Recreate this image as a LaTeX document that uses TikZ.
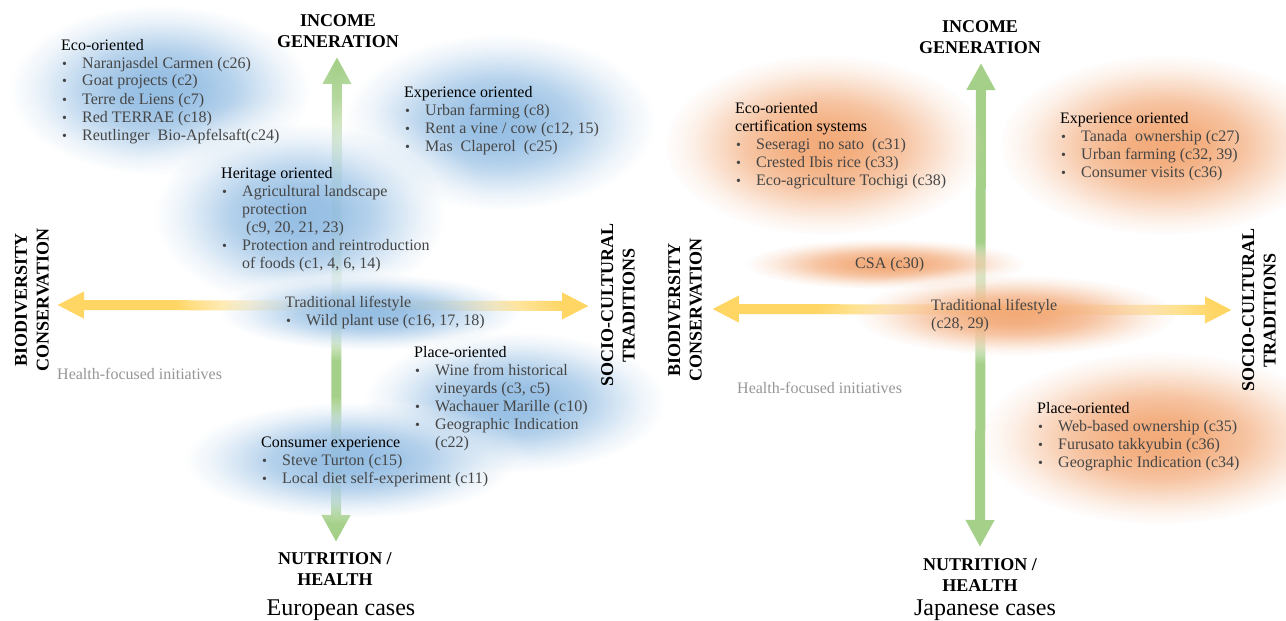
\documentclass[tikz,border=0pt]{standalone}
\usepackage{fontspec}
\setmainfont{Liberation Serif}
\usetikzlibrary{arrows.meta,fadings}
\definecolor{blobblue}{RGB}{91,155,213}
\definecolor{bloborange}{RGB}{237,125,49}
\definecolor{axgreen}{RGB}{165,208,138}
\definecolor{axyellow}{RGB}{255,214,100}
\definecolor{itemgray}{RGB}{70,70,70}
\definecolor{healthgray}{RGB}{150,150,150}

\pgfdeclareradialshading{blobsh}{\pgfpointorigin}{color(0bp)=(black!35); color(6bp)=(black!40); color(12bp)=(black!55); color(17bp)=(black!75); color(21bp)=(black!90); color(25bp)=(black!100); color(50bp)=(black!100)}
\pgfdeclarefading{softblob}{\pgfuseshading{blobsh}}
\pgfdeclareradialshading{glowsh}{\pgfpointorigin}{color(0bp)=(black!8); color(10bp)=(black!18); color(16bp)=(black!40); color(21bp)=(black!75); color(25bp)=(black!100); color(50bp)=(black!100)}
\pgfdeclarefading{softglow}{\pgfuseshading{glowsh}}

\newcommand\itm{\makebox[21pt][l]{\hspace{1pt}{\fontsize{14}{14}\selectfont\textbullet}}}
\newcommand\cnt{\hspace*{21pt}}
% colour, x, y, x radius, y radius, glow factor
\newcommand\drawblob[6]{%
  \fill[glowfill] (#2,#3) ellipse [x radius={#6*#4pt}, y radius={#6*#5pt}];
  \fill[#1, path fading=softblob] (#2,#3) ellipse [x radius={#4pt}, y radius={#5pt}];}

\tikzset{
  garrow/.style={draw=axgreen, line width=10pt, {Triangle[width=27pt,length=27pt]}-{Triangle[width=27pt,length=27pt]}},
  yarrow/.style={draw=axyellow, line width=10pt, {Triangle[width=25pt,length=27pt]}-{Triangle[width=25pt,length=27pt]}},
  glowfill/.style={fill=white, path fading=softglow},
  lst/.style={anchor=base west, inner sep=0pt, text=itemgray, font=\fontsize{16}{18}\selectfont},
  axlbl/.style={anchor=base, inner sep=0pt, text=black, font=\bfseries\fontsize{18}{21.5}\selectfont},
  vlbl/.style={axlbl, rotate=90},
  ttl/.style={anchor=base, inner sep=0pt, font=\fontsize{24}{28}\selectfont},
  hlth/.style={anchor=base west, inner sep=0pt, text=healthgray, font=\fontsize{16}{18}\selectfont},
}

\begin{document}
\begin{tikzpicture}[x=1pt,y=-1pt]
\path[fill=white,use as bounding box] (0,0) rectangle (1286,621);

% ---------- axes ----------
\coordinate (LT) at (337,57);
\coordinate (LB) at (336,542);
\coordinate (LL) at (57,305);
\coordinate (LR) at (589,306);
\coordinate (RT) at (981,63);
\coordinate (RB) at (980,547);
\coordinate (RL) at (712,309);
\coordinate (RR) at (1232,310);
\draw[garrow] (LB) -- (LT);
\draw[yarrow] (LL) -- (LR);
\draw[garrow] (RB) -- (RT);
\draw[yarrow] (RL) -- (RR);

% ---------- blobs: European ----------
\drawblob{blobblue}{160}{90}{150}{85}{1.2}
\drawblob{blobblue}{500}{122}{155}{88}{1.2}
\drawblob{blobblue}{300}{215}{145}{92}{1.3}
\drawblob{blobblue}{370}{312}{150}{38}{1.3}
\drawblob{blobblue}{515}{402}{150}{70}{1.15}
\drawblob{blobblue}{350}{460}{165}{58}{1.1}

% ---------- blobs: Japanese ----------
\drawblob{bloborange}{825}{145}{160}{90}{1.0}
\drawblob{bloborange}{1165}{145}{165}{90}{1.0}
\drawblob{bloborange}{885}{264}{140}{25}{1.1}
\drawblob{bloborange}{1015}{315}{160}{40}{1.25}
\drawblob{bloborange}{1160}{438}{180}{86}{1.0}

% ---------- axis labels ----------
\node[axlbl] (Linc) at (338,26) {\begin{tabular}[t]{@{}c@{}}INCOME\\GENERATION\end{tabular}};
\node[axlbl] (Lnut) at (335,564) {\begin{tabular}[t]{@{}c@{}}NUTRITION /\\HEALTH\end{tabular}};
\node[vlbl] (Lbio) at (27,300) {\begin{tabular}[t]{@{}c@{}}BIODIVERSITY\\CONSERVATION\end{tabular}};
\node[vlbl] (Lsoc) at (613,305) {\begin{tabular}[t]{@{}c@{}}SOCIO-CULTURAL\\TRADITIONS\end{tabular}};
\node[axlbl] (Rinc) at (980,32) {\begin{tabular}[t]{@{}c@{}}INCOME\\GENERATION\end{tabular}};
\node[axlbl] (Rnut) at (980,570) {\begin{tabular}[t]{@{}c@{}}NUTRITION /\\HEALTH\end{tabular}};
\node[vlbl] (Rbio) at (680,310) {\begin{tabular}[t]{@{}c@{}}BIODIVERSITY\\CONSERVATION\end{tabular}};
\node[vlbl] (Rsoc) at (1254,310) {\begin{tabular}[t]{@{}c@{}}SOCIO-CULTURAL\\TRADITIONS\end{tabular}};

\node[ttl] (Lttl) at (341,615) {European cases};
\node[ttl] (Rttl) at (985,615) {Japanese cases};

\node[hlth] (Lhlth) at (57,379) {Health-focused initiatives};
\node[hlth] (Rhlth) at (737,393) {Health-focused initiatives};

% ---------- European lists ----------
\node[lst] (Leco) at (61,50) {\begin{tabular}[t]{@{}l@{}}
\textcolor{black}{Eco-oriented}\\
\itm Naranjasdel Carmen (c26)\\
\itm Goat projects (c2)\\
\itm Terre de Liens (c7)\\
\itm Red TERRAE (c18)\\
\itm Reutlinger\ \ Bio-Apfelsaft(c24)
\end{tabular}};
\node[lst] (Lexp) at (404,97) {\begin{tabular}[t]{@{}l@{}}
\textcolor{black}{Experience oriented}\\
\itm Urban farming (c8)\\
\itm Rent a vine / cow (c12, 15)\\
\itm Mas\ \ Claperol\ \ (c25)
\end{tabular}};
\node[lst] (Lher) at (221,178) {\begin{tabular}[t]{@{}l@{}}
\textcolor{black}{Heritage oriented}\\
\itm Agricultural landscape\\
\cnt protection\\
\cnt\ (c9, 20, 21, 23)\\
\itm Protection and reintroduction\\
\cnt of foods (c1, 4, 6, 14)
\end{tabular}};
\node[lst] (Ltrad) at (285,307) {\begin{tabular}[t]{@{}l@{}}
Traditional lifestyle\\
\itm Wild plant use (c16, 17, 18)
\end{tabular}};
\node[lst] (Lplace) at (414,357) {\begin{tabular}[t]{@{}l@{}}
\textcolor{black}{Place-oriented}\\
\itm Wine from historical\\
\cnt vineyards (c3, c5)\\
\itm Wachauer Marille (c10)\\
\itm Geographic Indication\\
\cnt (c22)
\end{tabular}};
\node[lst] (Lcons) at (261,447) {\begin{tabular}[t]{@{}l@{}}
\textcolor{black}{Consumer experience}\\
\itm Steve Turton (c15)\\
\itm Local diet self-experiment (c11)
\end{tabular}};

% ---------- Japanese lists ----------
\node[lst] (Reco) at (735,113) {\begin{tabular}[t]{@{}l@{}}
\textcolor{black}{Eco-oriented}\\
\textcolor{black}{certification systems}\\
\itm Seseragi\ \ no sato\ \ (c31)\\
\itm Crested Ibis rice (c33)\\
\itm Eco-agriculture Tochigi (c38)
\end{tabular}};
\node[lst] (Rexp) at (1060,123) {\begin{tabular}[t]{@{}l@{}}
\textcolor{black}{Experience oriented}\\
\itm Tanada\ \ ownership (c27)\\
\itm Urban farming (c32, 39)\\
\itm Consumer visits (c36)
\end{tabular}};
\node[lst] (Rcsa) at (855,268) {CSA (c30)};
\node[lst] (Rtrad) at (931,310) {\begin{tabular}[t]{@{}l@{}}
Traditional lifestyle\\
(c28, 29)
\end{tabular}};
\node[lst] (Rplace) at (1037,413) {\begin{tabular}[t]{@{}l@{}}
\textcolor{black}{Place-oriented}\\
\itm Web-based ownership (c35)\\
\itm Furusato takkyubin (c36)\\
\itm Geographic Indication (c34)
\end{tabular}};
\end{tikzpicture}
\end{document}
